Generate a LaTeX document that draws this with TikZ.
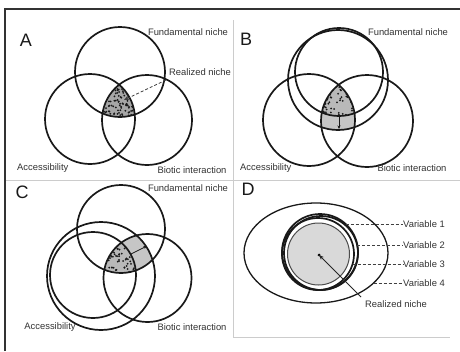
\documentclass[tikz,border=0pt]{standalone}
\usepackage{fontspec}
\setmainfont{Liberation Sans}
\usetikzlibrary{arrows.meta}
\newcommand\mystipple[3]{%
  \foreach \k in {1,...,#3} {\fill[black!90] ({#1+20*rand},{#2+20*rand}) circle[radius=1pt];}}
\begin{document}
\begin{tikzpicture}[x=1pt,y=-1pt,
  ring/.style={draw=black!90, line width=1.7pt},
  lbl/.style={font=\fontsize{9.4}{10}\selectfont, text=black!80, inner sep=0pt},
  panel/.style={font=\fontsize{18}{20}\selectfont, text=black!90, inner sep=0pt},
  lead/.style={draw=black!75, densely dashed, line width=0.8pt},
  smallarrow/.style={draw=black!90, line width=0.8pt, -{Stealth[length=3.5pt,width=3pt]}}]
\useasboundingbox (0,0) rectangle (460,351);
\fill[white] (0,0) rectangle (460,351);
\pgfmathsetseed{7}
% frame and dividers
\draw[black!20, line width=1pt] (233,20) -- (233,337) (5,180) -- (460,180) (233,337) -- (450,337);
\draw[black!80, line width=1.5pt] (5,351) -- (5,9) -- (460,9);

% ---------------- Panel A ----------------
\begin{scope}
  \clip (120,72) circle[radius=45pt];
  \clip (90,119) circle[radius=45pt];
  \clip (147,120) circle[radius=45pt];
  \fill[gray!70] (60,60) rectangle (180,140);
  \mystipple{119}{102}{160}
\end{scope}
\draw[ring] (120,72) circle[radius=45pt];
\draw[ring] (90,119) circle[radius=45pt];
\draw[ring] (147,120) circle[radius=45pt];
\node[panel] (pa) at (26,40) {A};
\node[lbl] (fa) at (188,32) {Fundamental niche};
\node[lbl, anchor=west] (ra) at (169,72) {Realized niche};
\node[lbl, anchor=west] (aa) at (17,168) {Accessibility};
\node[lbl] (ba) at (192,170) {Biotic interaction};
\coordinate (raS) at (166,80);
\coordinate (raE) at (124,100);
\draw[lead, -{Stealth[length=5pt,width=4.5pt]}] (raS) -- (raE);

% ---------------- Panel B ----------------
\begin{scope}
  \clip (338,80) circle[radius=50pt];
  \clip (309,120) circle[radius=46pt];
  \clip (367,121) circle[radius=46pt];
  \fill[gray!45] (280,60) rectangle (400,150);
\end{scope}
\begin{scope}
  \clip (339,72) circle[radius=44pt];
  \clip (309,120) circle[radius=46pt];
  \clip (367,121) circle[radius=46pt];
  \fill[gray!55] (280,60) rectangle (400,150);
  \mystipple{338}{102}{90}
\end{scope}
\draw[ring] (338,80) circle[radius=50pt];
\draw[ring] (339,72) circle[radius=44pt];
\draw[ring] (309,120) circle[radius=46pt];
\draw[ring] (367,121) circle[radius=46pt];
\coordinate (bS) at (339,117);
\coordinate (bE) at (339,129);
\draw[smallarrow] (bS) -- (bE);
\node[panel] (pb) at (246,39) {B};
\node[lbl] (fb) at (408,32) {Fundamental niche};
\node[lbl, anchor=west] (ab) at (240,168) {Accessibility};
\node[lbl] (bb) at (412,168) {Biotic interaction};

% ---------------- Panel C ----------------
\begin{scope}
  \clip (121,229) circle[radius=44pt];
  \clip (101,276) circle[radius=54pt];
  \clip (147.5,278) circle[radius=44pt];
  \fill[gray!45] (80,220) rectangle (180,290);
\end{scope}
\begin{scope}
  \clip (121,229) circle[radius=44pt];
  \clip (93,275) circle[radius=43pt];
  \clip (147.5,278) circle[radius=44pt];
  \fill[gray!55] (80,220) rectangle (180,290);
  \mystipple{120}{258}{90}
\end{scope}
\draw[ring] (121,229) circle[radius=44pt];
\draw[ring] (101,276) circle[radius=54pt];
\draw[ring] (93,275) circle[radius=43pt];
\draw[ring] (147.5,278) circle[radius=44pt];
\coordinate (cS) at (131,254);
\coordinate (cE) at (147,246);
\draw[smallarrow] (cS) -- (cE);
\node[panel] (pc) at (22,192) {C};
\node[lbl] (fc) at (188,188) {Fundamental niche};
\node[lbl] (ac) at (50,327) {Accessibility};
\node[lbl] (bc) at (192,327) {Biotic interaction};

% ---------------- Panel D ----------------
\draw[black!90, line width=1.3pt] (316,253) ellipse[x radius=72pt, y radius=50pt];
\fill[gray!30] (318.5,254) circle[radius=31pt];
\draw[black!70, line width=1pt] (318.5,254) circle[radius=31pt];
\draw[ring] (320,252) circle[radius=38pt];
\draw[ring] (321,253) circle[radius=37pt];
\draw[ring] (318,254) circle[radius=36pt];
\node[panel] (pd) at (248,189) {D};
\node[lbl, anchor=west] (v1) at (403,224) {Variable 1};
\node[lbl, anchor=west] (v2) at (403,245) {Variable 2};
\node[lbl, anchor=west] (v3) at (403,264) {Variable 3};
\node[lbl, anchor=west] (v4) at (403,283) {Variable 4};
\coordinate (d1) at (345.7,224);
\coordinate (d2) at (357.1,245);
\coordinate (d3) at (352.6,264);
\coordinate (d4) at (373.6,283);
\draw[lead] (d1) -- (v1.west);
\draw[lead] (d2) -- (v2.west);
\draw[lead] (d3) -- (v3.west);
\draw[lead] (d4) -- (v4.west);
\node[lbl] (rd) at (396,304) {Realized niche};
\coordinate (dc) at (319,255);
\fill[black] (dc) circle[radius=1.5pt];
\coordinate (dS) at (361,297);
\draw[black!85, line width=0.9pt, -{Stealth[length=5pt,width=4pt]}] (dS) -- (dc);
\end{tikzpicture}
\end{document}
